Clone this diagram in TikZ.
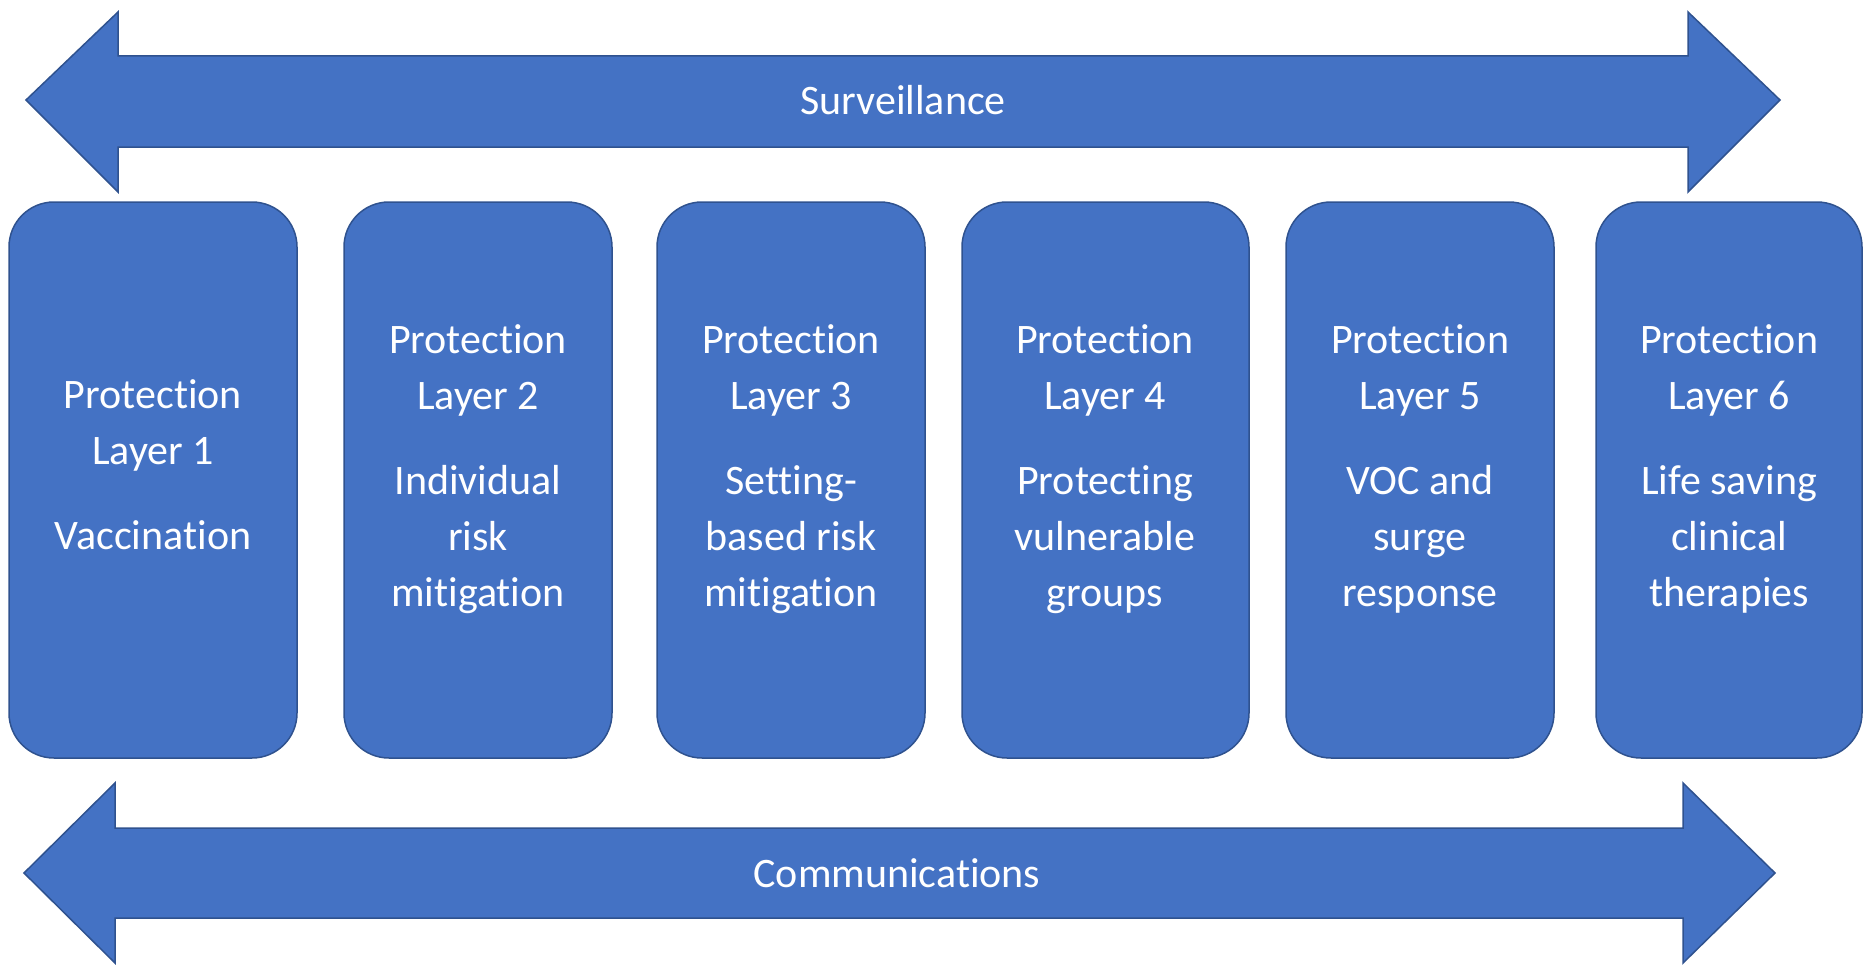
\documentclass[tikz,border=0pt]{standalone}
\usepackage{fontspec}
\setmainfont{Carlito}[Ligatures=NoCommon]
\definecolor{boxblue}{HTML}{4472C4}
\definecolor{edgeblue}{HTML}{2F528F}
\begin{document}
\begin{tikzpicture}[x=1pt,y=-1pt,
  layerbox/.style={draw=edgeblue,fill=boxblue,line width=1.5pt,rounded corners=45pt},
  bigarrow/.style={draw=edgeblue,fill=boxblue,line width=1.5pt,line join=miter},
  layertext/.style={text=white,align=center,inner sep=0pt,font=\fontsize{42}{56}\selectfont},
  arrowtext/.style={text=white,inner sep=0pt,font=\fontsize{42}{50}\selectfont}]
\useasboundingbox (0,0) rectangle (1863,966);
% top arrow
\draw[bigarrow] (26,100) -- (118,12) -- (118,56) -- (1688,56) -- (1688,12) -- (1780,100)
  -- (1688,192) -- (1688,147) -- (118,147) -- (118,192) -- cycle;
\node[arrowtext] (surv) at (903,100) {Surveillance};
% bottom arrow
\draw[bigarrow] (24,873) -- (115,783) -- (115,828) -- (1683,828) -- (1683,783) -- (1775,873)
  -- (1683,963) -- (1683,918) -- (115,918) -- (115,963) -- cycle;
\node[arrowtext] (comm) at (897,873) {Communications};
% boxes
\draw[layerbox] (9,202) rectangle (297,758);
\draw[layerbox] (344,202) rectangle (612,758);
\draw[layerbox] (657,202) rectangle (925,758);
\draw[layerbox] (962,202) rectangle (1249,758);
\draw[layerbox] (1286,202) rectangle (1554,758);
\draw[layerbox] (1596,202) rectangle (1862,758);
\node[layertext] (t1) at (153,465) {Protection\\Layer 1\\[29pt]Vaccination};
\node[layertext] (t2) at (478,469) {Protection\\Layer 2\\[29pt]Individual\\risk\\mitigation};
\node[layertext] (t3) at (791,469) {Protection\\Layer 3\\[29pt]Setting-\\based risk\\mitigation};
\node[layertext] (t4) at (1105,469) {Protection\\Layer 4\\[29pt]Protecting\\vulnerable\\groups};
\node[layertext] (t5) at (1420,469) {Protection\\Layer 5\\[29pt]VOC and\\surge\\response};
\node[layertext] (t6) at (1729,469) {Protection\\Layer 6\\[29pt]Life saving\\clinical\\therapies};
\end{tikzpicture}
\end{document}
